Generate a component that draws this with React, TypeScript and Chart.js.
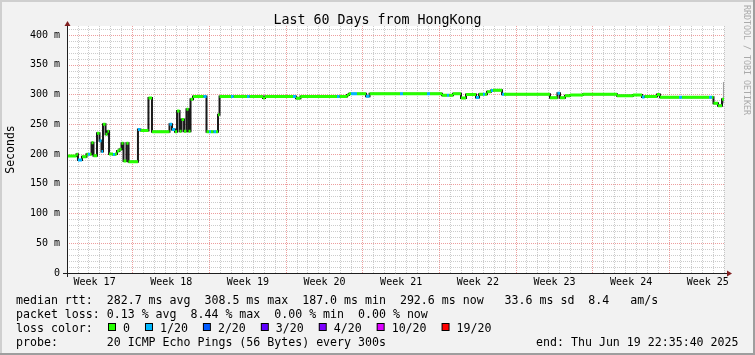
import React, { useEffect, useRef } from 'react';
import { Chart, registerables } from 'chart.js';

Chart.register(...registerables);

const FONT = '"DejaVu Sans Mono", monospace';

const titleText = 'Last 60 Days from HongKong';
const yAxisTitle = 'Seconds';
const watermark = 'RRDTOOL / TOBI OETIKER';

// step start (days since left edge), median RTT (ms), loss level index
const stepDays = [
  0.0, 0.87, 1.0, 1.37, 1.78, 1.92, 2.1, 2.24, 2.42, 2.74,
  2.97, 3.15, 3.29, 3.52, 3.7, 3.84, 4.2, 4.38, 4.57, 4.79,
  4.98, 5.16, 5.43, 5.62, 6.48, 6.71, 7.44, 7.76, 9.36, 9.59,
  9.86, 10.05, 10.28, 10.46, 10.69, 10.91, 11.1, 11.28, 11.51, 12.47,
  12.74, 12.97, 13.15, 13.38, 13.61, 13.79, 13.93, 14.98, 15.21, 16.44,
  16.67, 17.9, 18.08, 20.64, 20.91, 21.32, 24.66, 24.89, 25.57, 25.75,
  25.94, 26.48, 27.31, 27.63, 30.41, 30.68, 32.88, 33.15, 34.25, 34.7,
  34.89, 35.25, 35.98, 36.44, 37.35, 37.63, 37.99, 38.17, 38.36, 38.72,
  38.9, 39.73, 39.91, 44.11, 44.79, 45.02, 45.48, 45.94, 47.12, 50.23,
  51.69, 52.51, 52.74, 53.88, 54.16, 55.89, 56.16, 58.63, 58.9, 59.04,
  59.45, 59.82,
];
const medianMs = [
  196.5, 199.5, 190, 195.5, 199.5, 199.5, 199.5, 219, 197, 235,
  222, 204, 250, 233, 238, 200, 199, 200, 205, 208,
  218, 188, 218, 187, 241, 239.5, 294, 237.5, 250, 241,
  237.5, 272, 238, 258, 238, 275, 238, 292, 296.5, 296.5,
  237.5, 237.5, 237.5, 237.5, 237.5, 266, 296.5, 296.5, 296.5, 296.5,
  296.5, 294, 296.5, 296.5, 293.5, 296.5, 296.5, 296.5, 299, 301,
  301, 301, 297, 301, 301, 301, 301, 301, 298.5, 298.5,
  298.5, 301, 294, 300, 295, 300.5, 300.5, 300.5, 304.5, 306.5,
  307, 300.5, 300.5, 294.5, 302, 294.5, 298, 299, 300.3, 297.6,
  299, 295.5, 296.5, 300, 295.3, 295.3, 295.3, 295.3, 295.3, 285,
  281, 292,
];
const lossLevel = [
  0, 0, 1, 0, 0, 1, 0, 0, 0, 0,
  1, 1, 0, 0, 0, 0, 1, 0, 0, 0,
  0, 0, 0, 0, 1, 0, 0, 0, 1, 1,
  0, 0, 0, 0, 0, 0, 0, 0, 0, 1,
  0, 1, 0, 1, 0, 0, 0, 1, 0, 1,
  0, 0, 0, 1, 0, 0, 1, 0, 0, 0,
  1, 0, 1, 0, 1, 0, 1, 0, 0, 1,
  0, 0, 0, 0, 1, 0, 1, 0, 0, 1,
  0, 1, 0, 0, 1, 0, 0, 0, 0, 0,
  0, 1, 0, 0, 0, 1, 0, 1, 0, 0,
  0, 0,
];

const lastSmokeDay = 59.95;
const lastSmokeMs = [285, 321];

const xSpanDays = 60;
const yMaxMs = 415;
const yTickValues = [0, 50, 100, 150, 200, 250, 300, 350, 400];
const yTickLabels = ['0', '50 m', '100 m', '150 m', '200 m', '250 m', '300 m', '350 m', '400 m'];
const weekLabels = ['Week 17', 'Week 18', 'Week 19', 'Week 20', 'Week 21', 'Week 22', 'Week 23', 'Week 24', 'Week 25'];
const weekCenterDays = [2.52, 9.52, 16.52, 23.52, 30.52, 37.52, 44.52, 51.52, 58.52];
const weekBoundaryDays = [5.96, 12.96, 19.97, 26.97, 33.98, 40.98, 47.99, 54.99];
const dayGridOffset = 0.96;

const lossLabels = ['0', '1/20', '2/20', '3/20', '4/20', '10/20', '19/20'];
const lossColors = ['#26ff00', '#00b8ff', '#0059ff', '#5e00ff', '#7e00ff', '#dd00ff', '#ff0000'];

const statLine1 = 'median rtt:  282.7 ms avg  308.5 ms max  187.0 ms min  292.6 ms now   33.6 ms sd  8.4   am/s';
const statLine2 = 'packet loss: 0.13 % avg  8.44 % max  0.00 % min  0.00 % now';
const lossTitle = 'loss color:';
const probeLine = 'probe:       20 ICMP Echo Pings (56 Bytes) every 300s';
const endLine = 'end: Thu Jun 19 22:35:40 2025';

const COLORS = {
  back: '#f2f2f2',
  shadeA: '#cfcfcf',
  shadeB: '#9e9e9e',
  canvas: '#ffffff',
  grid: 'rgba(143,143,143,0.45)',
  mgrid: 'rgba(222,79,79,0.55)',
  font: '#000000',
  arrow: '#801f1f',
  axis: '#1f1f1f',
};

function lossSegments(level: number) {
  const out: { x: number; y: number | null }[] = [];
  stepDays.forEach((d, i) => {
    if (lossLevel[i] !== level) return;
    const end = i + 1 < stepDays.length ? stepDays[i + 1] : xSpanDays;
    out.push({ x: d, y: medianMs[i] }, { x: end, y: medianMs[i] }, { x: end, y: null });
  });
  return out;
}

const rrdPlugin = {
  id: 'rrdLook',
  beforeDraw(chart: any) {
    const ctx = chart.ctx as CanvasRenderingContext2D;
    const { width, height } = chart;
    const ca = chart.chartArea;
    ctx.save();
    ctx.fillStyle = COLORS.back;
    ctx.fillRect(0, 0, width, height);
    ctx.fillStyle = COLORS.shadeA;
    ctx.fillRect(0, 0, width, 2);
    ctx.fillRect(0, 0, 2, height);
    ctx.fillStyle = COLORS.shadeB;
    ctx.fillRect(0, height - 2, width, 2);
    ctx.fillRect(width - 2, 0, 2, height);
    ctx.fillStyle = COLORS.canvas;
    ctx.fillRect(ca.left, ca.top, ca.right - ca.left, ca.bottom - ca.top);

    // title
    ctx.fillStyle = COLORS.font;
    ctx.font = `13.3px ${FONT}`;
    ctx.textAlign = 'center';
    ctx.textBaseline = 'alphabetic';
    ctx.fillText(titleText, width / 2, 24);

    // y axis title
    ctx.save();
    ctx.translate(11, (ca.top + ca.bottom) / 2);
    ctx.rotate(-Math.PI / 2);
    ctx.font = `11.5px ${FONT}`;
    ctx.textAlign = 'center';
    ctx.textBaseline = 'middle';
    ctx.fillText(yAxisTitle, 0, 0);
    ctx.restore();

    // watermark
    ctx.save();
    ctx.translate(745.8, 60);
    ctx.rotate(Math.PI / 2);
    ctx.font = `8.3px ${FONT}`;
    ctx.fillStyle = '#aaaaaa';
    ctx.textAlign = 'center';
    ctx.textBaseline = 'middle';
    ctx.fillText(watermark, 0, 0);
    ctx.restore();
    ctx.restore();
  },
  beforeDatasetsDraw(chart: any) {
    const ctx = chart.ctx as CanvasRenderingContext2D;
    const ca = chart.chartArea;
    const xs = chart.scales.x;
    const ys = chart.scales.y;
    ctx.save();
    ctx.lineWidth = 1;
    ctx.setLineDash([1, 1]);
    // horizontal grid
    for (let v = 10; v <= yMaxMs; v += 10) {
      const major = v % 50 === 0;
      const y = Math.round(ys.getPixelForValue(v)) + 0.5;
      ctx.strokeStyle = major ? COLORS.mgrid : COLORS.grid;
      ctx.beginPath();
      ctx.moveTo(ca.left, y);
      ctx.lineTo(ca.right, y);
      ctx.stroke();
    }
    // vertical grid
    for (let d = dayGridOffset; d < xSpanDays; d += 1) {
      const major = weekBoundaryDays.some((w) => Math.abs(w - d) < 0.2);
      if (major) continue;
      const x = Math.round(xs.getPixelForValue(d)) + 0.5;
      ctx.strokeStyle = COLORS.grid;
      ctx.beginPath();
      ctx.moveTo(x, ca.top);
      ctx.lineTo(x, ca.bottom);
      ctx.stroke();
    }
    weekBoundaryDays.forEach((d) => {
      const x = Math.round(xs.getPixelForValue(d)) + 0.5;
      ctx.strokeStyle = COLORS.mgrid;
      ctx.beginPath();
      ctx.moveTo(x, ca.top);
      ctx.lineTo(x, ca.bottom);
      ctx.stroke();
    });
    ctx.restore();
  },
  afterDatasetsDraw(chart: any) {
    const ctx = chart.ctx as CanvasRenderingContext2D;
    const ca = chart.chartArea;
    ctx.save();
    ctx.strokeStyle = COLORS.axis;
    ctx.lineWidth = 1;
    const yb = ca.bottom + 0.5;
    const xl = ca.left + 0.5;
    ctx.beginPath();
    ctx.moveTo(ca.left - 4, yb);
    ctx.lineTo(ca.right + 4, yb);
    ctx.moveTo(xl, ca.bottom + 4);
    ctx.lineTo(xl, ca.top - 3);
    ctx.stroke();
    ctx.fillStyle = COLORS.arrow;
    ctx.beginPath();
    ctx.moveTo(xl - 3, ca.top);
    ctx.lineTo(xl + 3, ca.top);
    ctx.lineTo(xl, ca.top - 5);
    ctx.closePath();
    ctx.fill();
    ctx.beginPath();
    ctx.moveTo(ca.right + 3, yb - 3);
    ctx.lineTo(ca.right + 3, yb + 3);
    ctx.lineTo(ca.right + 8, yb);
    ctx.closePath();
    ctx.fill();
    ctx.restore();
  },
  afterDraw(chart: any) {
    const ctx = chart.ctx as CanvasRenderingContext2D;
    ctx.save();
    ctx.fillStyle = COLORS.font;
    ctx.font = `11.6px ${FONT}`;
    ctx.textAlign = 'left';
    ctx.textBaseline = 'alphabetic';
    const x0 = 16;
    ctx.fillText(statLine1, x0, 303.5);
    ctx.fillText(statLine2, x0, 317.5);
    ctx.fillText(lossTitle, x0, 331.5);
    let bx = 108;
    lossLabels.forEach((lab, i) => {
      ctx.fillStyle = '#000000';
      ctx.fillRect(bx, 323, 8, 8);
      ctx.fillStyle = lossColors[i];
      ctx.fillRect(bx + 1, 324, 6, 6);
      ctx.fillStyle = COLORS.font;
      const tx = bx + 15;
      ctx.fillText(lab, tx, 331.5);
      bx = tx + ctx.measureText(lab).width + 15;
    });
    ctx.fillText(probeLine, x0, 345.5);
    ctx.textAlign = 'right';
    ctx.fillText(endLine, 738.5, 345.5);
    ctx.restore();
  },
};

export default function App() {
  const ref = useRef<HTMLCanvasElement | null>(null);
  useEffect(() => {
    document.body.style.margin = '0';
    const canvas = ref.current;
    if (!canvas) return;
    const smoke = stepDays.map((d, i) => ({ x: d, y: medianMs[i] as number | null }));
    smoke.push({ x: xSpanDays, y: medianMs[medianMs.length - 1] });
    const chart = new Chart(canvas, {
      type: 'line',
      data: {
        datasets: [
          {
            label: '1/20',
            data: lossSegments(1),
            borderColor: lossColors[1],
            borderWidth: 3,
            pointRadius: 0,
            spanGaps: false,
            order: 0,
          },
          {
            label: '0',
            data: lossSegments(0),
            borderColor: lossColors[0],
            borderWidth: 3,
            pointRadius: 0,
            spanGaps: false,
            order: 1,
          },
          {
            label: 'smoke-last',
            data: [
              { x: lastSmokeDay, y: lastSmokeMs[0] },
              { x: lastSmokeDay, y: lastSmokeMs[1] },
            ],
            borderColor: '#9a9a9a',
            borderWidth: 1,
            pointRadius: 0,
            order: 2,
          },
          {
            label: 'median',
            data: smoke,
            borderColor: '#1a1a1a',
            borderWidth: 2,
            pointRadius: 0,
            stepped: 'before',
            order: 3,
          },
        ],
      },
      options: {
        animation: false,
        responsive: false,
        devicePixelRatio: 1,
        layout: { padding: { top: 26, right: 31, left: 0, bottom: 0 } },
        plugins: {
          legend: { display: false },
          tooltip: { enabled: false },
          title: { display: false },
        },
        elements: { line: { tension: 0 }, point: { radius: 0 } },
        scales: {
          x: {
            type: 'linear',
            min: 0,
            max: xSpanDays,
            grid: { display: false, drawTicks: false },
            border: { display: false },
            afterBuildTicks: (scale: any) => {
              scale.ticks = weekCenterDays.map((v) => ({ value: v }));
            },
            afterFit: (scale: any) => {
              scale.height = 82;
            },
            ticks: {
              autoSkip: false,
              maxRotation: 0,
              padding: 3,
              color: COLORS.font,
              font: { family: FONT, size: 10 },
              callback: (v: any) => {
                const i = weekCenterDays.indexOf(Number(v));
                return i >= 0 ? weekLabels[i] : '';
              },
            },
          },
          y: {
            type: 'linear',
            min: 0,
            max: yMaxMs,
            grid: { display: false, drawTicks: false },
            border: { display: false },
            afterBuildTicks: (scale: any) => {
              scale.ticks = yTickValues.map((v) => ({ value: v }));
            },
            afterFit: (scale: any) => {
              scale.width = 67;
            },
            ticks: {
              autoSkip: false,
              padding: 7,
              color: COLORS.font,
              font: { family: FONT, size: 10 },
              callback: (v: any) => {
                const i = yTickValues.indexOf(Number(v));
                return i >= 0 ? yTickLabels[i] : '';
              },
            },
          },
        },
      },
      plugins: [rrdPlugin],
    });
    return () => chart.destroy();
  }, []);
  return (
    <div style={{ position: 'absolute', left: 0, top: 0, width: 755, height: 355 }}>
      <canvas ref={ref} width={755} height={355} style={{ display: 'block', width: 755, height: 355 }} />
    </div>
  );
}
